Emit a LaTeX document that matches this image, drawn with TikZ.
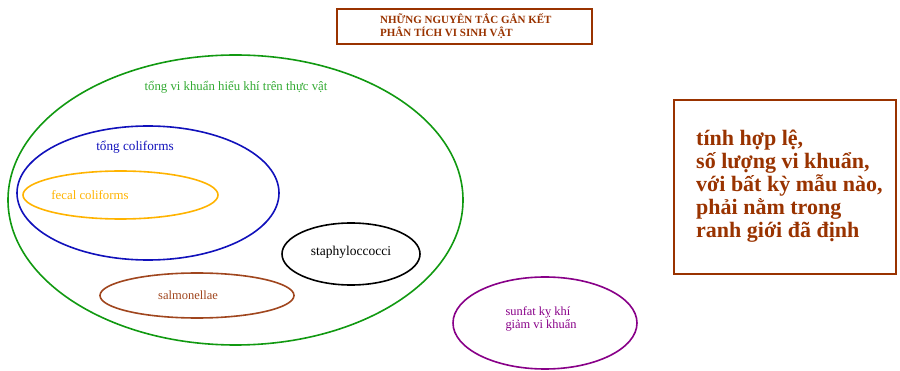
\documentclass[tikz,border=0pt]{standalone}
\usepackage{fontspec}
\setmainfont{Liberation Serif}
\begin{document}
\begin{tikzpicture}[x=1pt,y=-1pt,
  lbl/.style={font=\fontsize{12.8}{14}\selectfont, inner sep=0pt}]
\definecolor{rust}{HTML}{993300}
\definecolor{leaf}{HTML}{119911}
\definecolor{leaftext}{HTML}{33AA33}
\definecolor{royal}{HTML}{1111BB}
\definecolor{amber}{HTML}{FFB300}
\definecolor{clay}{HTML}{A0461E}
\definecolor{plum}{HTML}{880088}
\useasboundingbox (0,0) rectangle (900,371);
% nested groups of bacteria
\draw[leaf, line width=1.6pt] (235.5,200) ellipse [x radius=227.5, y radius=145];
\draw[royal, line width=1.6pt] (148,193) ellipse [x radius=131, y radius=67];
\draw[amber, line width=1.6pt] (120.5,195) ellipse [x radius=97.5, y radius=24];
\draw[black, line width=1.6pt] (351,254) ellipse [x radius=69, y radius=31];
\draw[clay, line width=1.6pt] (197,295.5) ellipse [x radius=97, y radius=22.5];
\draw[plum, line width=1.6pt] (545,323) ellipse [x radius=92, y radius=46];
\node[lbl, text=leaftext] (total) at (236,87) {tổng vi khuẩn hiếu khí trên thực vật};
\node[lbl, text=royal, font=\fontsize{13.2}{15}\selectfont] (coli) at (135,147) {tổng coliforms};
\node[lbl, text=amber] (fecal) at (90,195) {fecal coliforms};
\node[lbl, text=black, font=\fontsize{13.5}{15}\selectfont] (staph) at (351,252) {staphyloccocci};
\node[lbl, text=clay, font=\fontsize{12.5}{14}\selectfont] (salm) at (188,295) {salmonellae};
\node[lbl, text=plum, align=left, font=\fontsize{12.4}{12.5}\selectfont] (sulf) at (541,319) {sunfat kỵ khí\\giảm vi khuẩn};
% title box
\draw[draw=rust, line width=2pt] (337,9) rectangle (592,44);
\node[inner sep=0pt, anchor=west, align=left, text=rust,
  font=\bfseries\fontsize{11}{13}\selectfont] (title) at (380,26)
  {NHỮNG NGUYÊN TẮC GẮN KẾT\\PHÂN TÍCH VI SINH VẬT};
% rule box
\draw[draw=rust, line width=2.4pt] (674,100) rectangle (896,274);
\node[inner sep=0pt, anchor=west, align=left, text=rust,
  font=\bfseries\fontsize{22}{23}\selectfont] (rule) at (696,186)
  {tính hợp lệ,\\số lượng vi khuẩn,\\với bất kỳ mẫu nào,\\phải nằm trong\\ranh giới đã định};
\end{tikzpicture}
\end{document}
